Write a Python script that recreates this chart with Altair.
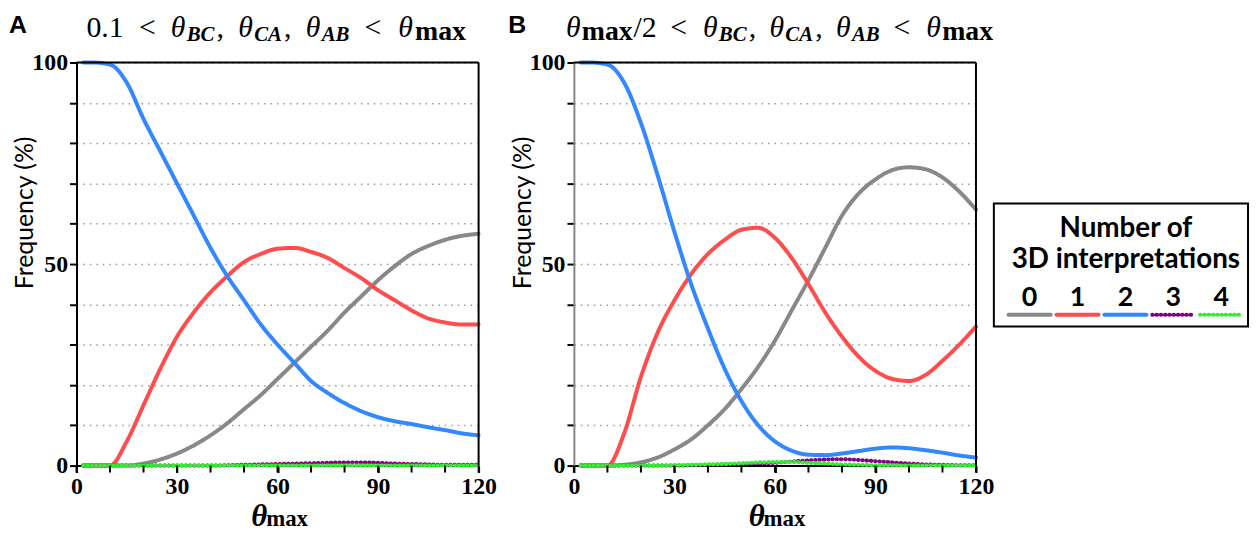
import altair as alt
import pandas as pd

# ---------------- data ----------------
THETA_MAX = [2, 5, 10, 15, 20, 25, 30, 35, 40, 45, 50, 55, 60, 65, 70, 75, 80, 85, 90, 95, 100, 105, 110, 115, 120]
SERIES = ["0", "1", "2", "3", "4"]

A_0 = [0, 0, 0, 0, 0.5, 1.5, 3, 5, 7.5, 10.5, 14, 17.5, 21.5, 25.5, 29.5, 33.5, 38, 42, 46, 49.5, 52.5, 54.5, 56, 57, 57.5]
A_1 = [0, 0, 0, 6, 15, 24, 32, 38, 43, 47, 50.5, 52.5, 53.8, 54, 53, 51.5, 49, 46.5, 43.5, 41, 38.5, 36.5, 35.5, 35, 35]
A_2 = [100, 100, 99.5, 95, 86, 78, 70, 62, 54, 47, 41, 35, 30, 25.5, 21, 18, 15.5, 13.5, 12, 11, 10.3, 9.5, 8.8, 8, 7.5]
A_3 = [0, 0, 0, 0, 0, 0, 0, 0, 0, 0.1, 0.2, 0.3, 0.4, 0.5, 0.6, 0.7, 0.8, 0.8, 0.7, 0.5, 0.4, 0.3, 0.2, 0.2, 0.2]
A_4 = [0, 0, 0, 0, 0, 0, 0, 0, 0, 0, 0, 0, 0, 0, 0, 0, 0, 0, 0, 0, 0, 0, 0, 0, 0]

B_0 = [0, 0, 0, 0.2, 0.8, 2, 4, 6.5, 10, 14, 19, 24.5, 31, 38.5, 46, 54, 62, 67.5, 71, 73.3, 74, 73.5, 71.5, 68, 63.5]
B_1 = [0, 0, 0, 8, 22, 33, 41, 47.5, 52.5, 56, 58.5, 59, 56.5, 51.5, 45, 38, 32, 27, 23.5, 21.5, 21, 22.5, 26, 30, 34.5]
B_2 = [100, 100, 99.5, 95, 85, 72, 58, 45, 34, 24, 16, 10, 6, 3.7, 2.7, 2.6, 3, 3.6, 4.2, 4.5, 4.3, 3.8, 3.2, 2.5, 2]
B_3 = [0, 0, 0, 0, 0, 0, 0, 0.1, 0.2, 0.3, 0.4, 0.5, 0.7, 1, 1.3, 1.5, 1.6, 1.4, 1.1, 0.8, 0.5, 0.3, 0.2, 0.1, 0.1]
B_4 = [0, 0, 0, 0, 0, 0, 0.1, 0.2, 0.3, 0.4, 0.6, 0.8, 0.9, 0.9, 0.7, 0.5, 0.3, 0.2, 0.1, 0.1, 0, 0, 0, 0, 0]

X_TICKS = list(range(0, 121, 10))
X_LABELS = [0, 30, 60, 90, 120]
Y_TICKS = list(range(0, 101, 10))

COLORS = ["#888888", "#ff4d4d", "#3388ff", "#800080", "#33ee33"]
DASHES = [[1, 0], [1, 0], [1, 0], [0.5, 3.8], [0.5, 3.8]]

LEGEND_TITLE = ["Number of", "3D interpretations"]
Y_TITLE = "Frequency (%)"

SERIF = "Liberation Serif"
SANS = "Lato"
W, H = 405, 406


def long_df(cols):
    rows = []
    for s, vals in zip(SERIES, cols):
        for x, v in zip(THETA_MAX, vals):
            rows.append({"x": x, "v": v, "s": s})
    return pd.DataFrame(rows)


color_scale = alt.Scale(domain=SERIES, range=COLORS)
dash_scale = alt.Scale(domain=SERIES, range=DASHES)
one = pd.DataFrame({"d": [0]})


def txt(s, x, y, size, weight="normal", style="normal", font=SERIF, align="left", angle=0):
    return alt.Chart(pd.DataFrame({"t": [s]})).mark_text(
        font=font, fontSize=size, fontWeight=weight, fontStyle=style,
        align=align, baseline="alphabetic", angle=angle, color="black"
    ).encode(text="t:N", x=alt.value(x), y=alt.value(y))


def title_frags(frags):
    out = []
    for s, kind, x in frags:
        if kind == "num":
            out.append(txt(s, x, -26, 30))
        elif kind == "theta":
            out.append(txt(s, x, -26, 30, style="italic"))
        elif kind == "sub":
            out.append(txt(s, x, -22, 21, weight="bold", style="italic"))
        elif kind == "max":
            out.append(txt(s, x, -23, 28, weight="bold"))
    return out


def panel(cols, letter, letter_x, frags, left_axis_color):
    df = long_df(cols)
    lines = alt.Chart(df).mark_line(strokeWidth=4, strokeCap="round", interpolate="monotone").encode(
        x=alt.X("x:Q", scale=alt.Scale(domain=[0, 120], nice=False),
                axis=alt.Axis(values=X_LABELS, title=None, grid=False, labelFont=SERIF,
                              labelFontWeight="bold", labelFontSize=24, labelColor="black",
                              labelPadding=2, labelFlush=False,
                              tickColor="black", tickWidth=2, tickSize=7,
                              domainColor="black", domainWidth=2)),
        y=alt.Y("v:Q", scale=alt.Scale(domain=[0, 100], nice=False),
                axis=alt.Axis(values=Y_TICKS, labelExpr="datum.value % 50 == 0 ? datum.label : ''",
                              title=Y_TITLE, titleFont=SANS, titleFontSize=25, titleFontWeight="normal",
                              titleColor="black", titleX=-39, titleY=151, titleBaseline="bottom",
                              labelFont=SERIF, labelFontWeight="bold", labelFontSize=24,
                              labelColor="black", labelPadding=2,
                              labelOverlap=False, labelFlush=False,
                              tickColor="black", tickWidth=2, tickSize=7,
                              domainColor=left_axis_color, domainWidth=2,
                              grid=True, gridDash=[1.5, 5], gridColor="#999999", gridWidth=1.5)),
        color=alt.Color("s:N", scale=color_scale, legend=None),
        strokeDash=alt.StrokeDash("s:N", scale=dash_scale, legend=None),
        order=alt.Order("s:N"),
    )
    # minor ticks on the x axis (every 10)
    xticks = alt.Chart(pd.DataFrame({"x": X_TICKS})).mark_rule(color="black", strokeWidth=2).encode(
        x=alt.X("x:Q"), y=alt.value(H), y2=alt.value(H + 7))
    top = alt.Chart(one).mark_rule(color="black", strokeWidth=2).encode(
        x=alt.datum(0), x2=alt.datum(120), y=alt.datum(100))
    right = alt.Chart(one).mark_rule(color="black", strokeWidth=2).encode(
        x=alt.datum(120), y=alt.datum(0), y2=alt.datum(100))
    parts = [lines, xticks, top, right]
    parts.append(txt(letter, letter_x, -30, 25, weight="bold", font="Liberation Sans"))
    parts += title_frags(frags)
    parts.append(txt("θ", 176, 467, 31, weight="bold", style="italic"))
    parts.append(txt("max", 191, 467, 23, weight="bold"))
    return alt.layer(*parts)


FRAGS_A = [("0.1", "num", 10), ("<", "num", 63), ("θ", "theta", 95), ("BC", "sub", 111),
           (",", "num", 141), ("θ", "theta", 163), ("CA", "sub", 179), (",", "num", 209),
           ("θ", "theta", 231), ("AB", "sub", 247), ("<", "num", 290), ("θ", "theta", 324),
           ("max", "max", 341)]
FRAGS_B = [("θ", "theta", -8), ("max", "max", 8), ("/2", "num", 60), ("<", "num", 97),
           ("θ", "theta", 130), ("BC", "sub", 146), (",", "num", 176), ("θ", "theta", 197),
           ("CA", "sub", 213), (",", "num", 243), ("θ", "theta", 264), ("AB", "sub", 280),
           ("<", "num", 322), ("θ", "theta", 355), ("max", "max", 371)]

panel_a = panel([A_0, A_1, A_2, A_3, A_4], "A", -68, FRAGS_A, "black").properties(width=W, height=H)

# legend drawn inside panel B, to its right, with its own x scale
leg_df = pd.DataFrame({"s": SERIES, "k": list(range(len(SERIES)))})
leg_x = alt.Scale(domain=[0, 4], range=[459, 652])
leg_box = alt.Chart(one).mark_rect(fillOpacity=0, stroke="black", strokeWidth=2).encode(
    x=alt.value(423), x2=alt.value(679), y=alt.value(142), y2=alt.value(266))
leg_seg = alt.Chart(leg_df).transform_calculate(a="datum.k - 0.44", b="datum.k + 0.44").mark_rule(
    strokeWidth=4, strokeCap="round").encode(
    x=alt.X("a:Q", scale=leg_x, axis=None), x2="b:Q", y=alt.value(254),
    color=alt.Color("s:N", scale=color_scale, legend=None),
    strokeDash=alt.StrokeDash("s:N", scale=dash_scale, legend=None))
leg_lab = alt.Chart(leg_df).mark_text(font=SANS, fontSize=27, fontWeight="bold", color="black",
                                      baseline="alphabetic").encode(
    x=alt.X("k:Q", scale=leg_x, axis=None), y=alt.value(245), text="s:N")
leg_t1 = txt(LEGEND_TITLE[0], 556, 176, 28, weight="bold", font=SANS, align="center")
leg_t2 = txt(LEGEND_TITLE[1], 556, 207, 28, weight="bold", font=SANS, align="center")
legend_layer = alt.layer(leg_box, leg_seg, leg_lab, leg_t1, leg_t2)

panel_b = alt.layer(
    panel([B_0, B_1, B_2, B_3, B_4], "B", -66, FRAGS_B, "#888888"),
    legend_layer,
).resolve_scale(x="independent").properties(width=W, height=H)

chart = alt.hconcat(panel_a, panel_b, spacing=10).properties(
    padding={"left": 0, "top": 2, "right": 0, "bottom": 0}
).configure_view(stroke=None).configure(background="white")

chart.save("out.html", embed_options={"renderer": "svg", "actions": False})
